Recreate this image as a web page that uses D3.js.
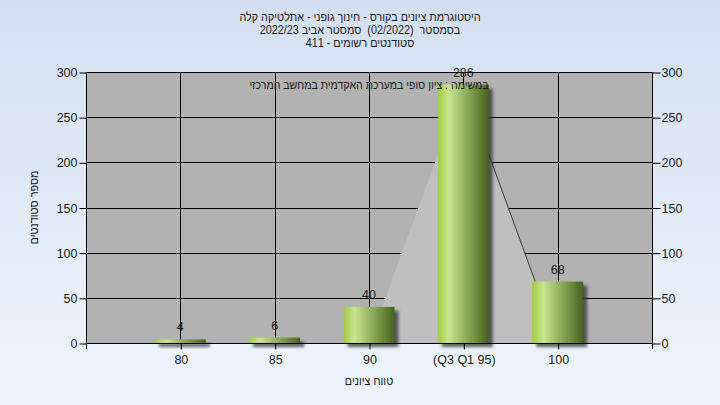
<!DOCTYPE html>
<html><head><meta charset="utf-8">
<script src="https://cdn.jsdelivr.net/npm/d3@7"></script>
<style>
html,body{margin:0;padding:0;}
svg{display:block;}
text{font-family:"Liberation Sans",Arial,sans-serif;}
.heb{white-space:pre;}
</style></head>
<body>
<svg id="chart" width="720" height="405"></svg>
<script>
const titleLines = ["היסטוגרמת ציונים בקורס - חינוך גופני - אתלטיקה קלה",
                    "בסמסטר  (02/2022)  סמסטר אביב 2022/23",
                    "סטודנטים רשומים - 411"];
const seriesName = "במשימה : ציון סופי במערכת האקדמית במחשב המרכזי";
const categories = ["80", "85", "90", "(Q3 Q1 95)", "100"];
const counts = [4, 6, 40, 286, 68];
const overlayValues = [0, 0, 0, 286, 0];
const yTicks = [0, 50, 100, 150, 200, 250, 300];
const yTitle = "מספר סטודנטים";
const xTitle = "טווח ציונים";

const W = 720, H = 405;
const margin = {top: 72, right: 68, bottom: 62, left: 86};
const svg = d3.select("#chart");
const defs = svg.append("defs");

const bgGrad = defs.append("linearGradient").attr("id","bg").attr("x1",0).attr("y1",0).attr("x2",0).attr("y2",1);
bgGrad.append("stop").attr("offset","0%").attr("stop-color","#d3dff0");
bgGrad.append("stop").attr("offset","100%").attr("stop-color","#eff5fd");

const barGrad = defs.append("linearGradient").attr("id","bar").attr("x1",0).attr("y1",0).attr("x2",1).attr("y2",0);
[["0%","#a2cc42"],["22%","#c9e48f"],["55%","#8fae5c"],["100%","#46621e"]].forEach(([o,c])=>
  barGrad.append("stop").attr("offset",o).attr("stop-color",c));

const blur = defs.append("filter").attr("id","blur").attr("x","-30%").attr("y","-30%").attr("width","160%").attr("height","160%");
blur.append("feGaussianBlur").attr("stdDeviation",1.6);

svg.append("rect").attr("width",W).attr("height",H).attr("fill","url(#bg)");

const x = d3.scalePoint().domain(categories).range([margin.left, W - margin.right]).padding(1);
const y = d3.scaleLinear().domain([0, 300]).range([H - margin.bottom, margin.top]);
const barW = 51;

// plot background
svg.append("rect").attr("x",margin.left).attr("y",margin.top)
  .attr("width",W-margin.left-margin.right).attr("height",H-margin.top-margin.bottom)
  .attr("fill","#b2b2b2");

// gridlines
const g = svg.append("g");
g.selectAll(".hg").data(yTicks).join("line")
  .attr("x1",margin.left).attr("x2",W-margin.right)
  .attr("y1",d=>Math.round(y(d))+0.5).attr("y2",d=>Math.round(y(d))+0.5)
  .attr("stroke","#000").attr("stroke-width",1);
g.selectAll(".vg").data(categories).join("line")
  .attr("x1",d=>Math.round(x(d))+0.5).attr("x2",d=>Math.round(x(d))+0.5)
  .attr("y1",margin.top).attr("y2",H-margin.bottom)
  .attr("stroke","#000").attr("stroke-width",1);

// overlay area
const ov = categories.map((c,i)=>({c, v: overlayValues[i]}));
svg.append("path").datum(ov)
  .attr("d", d3.area().x(d=>x(d.c)).y0(y(0)).y1(d=>y(d.v)))
  .attr("fill","#bfbfbf");
svg.append("path").datum(ov.slice(3))
  .attr("d", d3.line().x(d=>x(d.c)).y(d=>y(d.v)))
  .attr("fill","none").attr("stroke","#3a3a3a").attr("stroke-width",1);

// bars
const data = categories.map((c,i)=>({c, v: counts[i]}));
svg.append("g").selectAll("rect").data(data).join("rect")
  .attr("x",d=>x(d.c)-barW/2+4).attr("y",d=>y(d.v)+4)
  .attr("width",barW).attr("height",d=>y(0)-y(d.v))
  .attr("fill","#333").attr("opacity",0.75).attr("filter","url(#blur)");
svg.append("g").selectAll("rect").data(data).join("rect")
  .attr("x",d=>x(d.c)-barW/2).attr("y",d=>y(d.v))
  .attr("width",barW).attr("height",d=>y(0)-y(d.v))
  .attr("fill","url(#bar)");

// axes frame
const axisColor = "#000";
svg.append("line").attr("x1",margin.left+0.5).attr("x2",margin.left+0.5).attr("y1",margin.top).attr("y2",H-margin.bottom+6).attr("stroke",axisColor);
svg.append("line").attr("x1",W-margin.right+0.5).attr("x2",W-margin.right+0.5).attr("y1",margin.top).attr("y2",H-margin.bottom+6).attr("stroke",axisColor);
svg.append("line").attr("x1",margin.left).attr("x2",W-margin.right).attr("y1",Math.round(y(0))+0.5).attr("y2",Math.round(y(0))+0.5).attr("stroke",axisColor);

const yl = d3.axisLeft(y).tickValues(yTicks).tickSize(7).tickPadding(2);
const yr = d3.axisRight(y).tickValues(yTicks).tickSize(8).tickPadding(1);
const xb = d3.axisBottom(x).tickSize(6).tickPadding(6);
function style(sel){
  sel.select(".domain").remove();
  sel.selectAll("line").attr("stroke","#000");
  sel.selectAll("text").attr("font-size",12.5).attr("fill","#1a1a1a")
    .attr("font-family","'Liberation Sans',Arial,sans-serif");
}
svg.append("g").attr("transform",`translate(${margin.left+0.5},0.5)`).call(yl).call(style);
svg.append("g").attr("transform",`translate(${W-margin.right+0.5},0.5)`).call(yr).call(style);
svg.append("g").attr("transform",`translate(0.5,${Math.round(y(0))+0.5})`).call(xb).call(style);

// value labels
svg.append("g").selectAll("text").data(data).join("text")
  .attr("x",d=>x(d.c)).attr("y",d=>y(d.v)-8)
  .attr("text-anchor","middle").attr("font-size",12.5).attr("fill","#1a1a1a")
  .text(d=>d.v);

// condensed Hebrew text helper
function condense(sel, k){
  sel.each(function(){
    const len = this.getComputedTextLength();
    d3.select(this).attr("textLength", len*k).attr("lengthAdjust","spacingAndGlyphs");
  });
}

// series name
svg.append("text").attr("class","heb").attr("x",(margin.left+W-margin.right)/2).attr("y",89)
  .attr("text-anchor","middle").attr("direction","rtl").attr("font-size",12).attr("fill","#1a1a1a")
  .text(seriesName).call(condense,0.88);

// title
svg.append("g").selectAll("text").data(titleLines).join("text").attr("class","heb")
  .attr("x",360).attr("y",(d,i)=>21+i*13)
  .attr("text-anchor","middle").attr("direction","rtl").attr("font-size",12).attr("fill","#1a1a1a")
  .text(d=>d).call(condense,0.9);

// axis titles
svg.append("text").attr("class","heb").attr("transform",`translate(38,${(margin.top+H-margin.bottom)/2}) rotate(-90)`)
  .attr("text-anchor","middle").attr("direction","rtl").attr("font-size",12).attr("fill","#1a1a1a")
  .text(yTitle).call(condense,0.9);
svg.append("text").attr("class","heb").attr("x",(margin.left+W-margin.right)/2).attr("y",385)
  .attr("text-anchor","middle").attr("direction","rtl").attr("font-size",12).attr("fill","#1a1a1a")
  .text(xTitle).call(condense,0.9);
</script>
</body></html>
